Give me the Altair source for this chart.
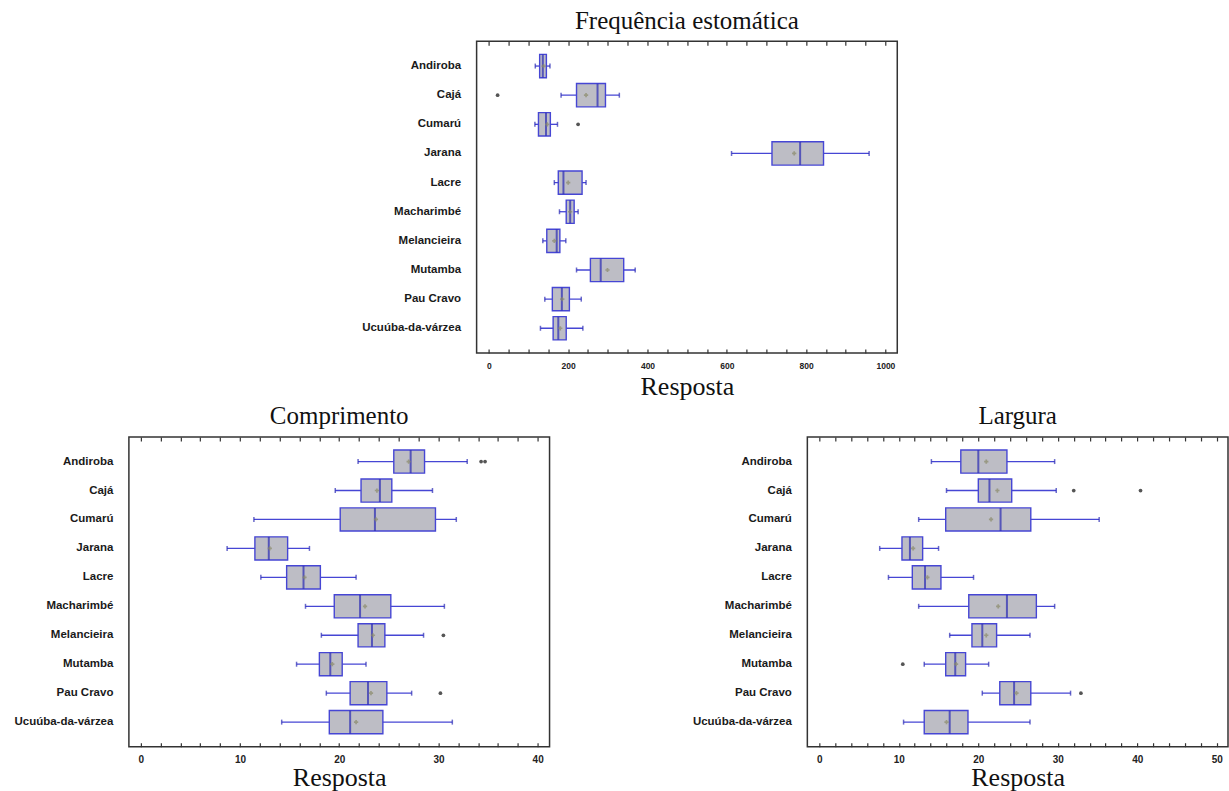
import altair as alt
import pandas as pd

species = ["Andiroba", "Cajá", "Cumarú", "Jarana", "Lacre", "Macharimbé",
           "Melancieira", "Mutamba", "Pau Cravo", "Ucuúba-da-várzea"]

# Frequência estomática
freq_lo = [117, 182, 116, 612, 165, 178, 136, 221, 141, 130]
freq_q1 = [128, 221, 125, 714, 175, 195, 146, 256, 160, 162]
freq_med = [136, 274, 144, 785, 188, 205, 171, 282, 184, 175]
freq_q3 = [145, 294, 155, 844, 235, 215, 179, 340, 203, 195]
freq_hi = [154, 329, 173, 959, 245, 225, 194, 369, 233, 237]
freq_mean = [138, 245, 147, 770, 200, 205, 165, 299, 185, 180]
freq_out_sp = ["Cajá", "Cumarú"]
freq_out_val = [22, 225]

# Comprimento
comp_lo = [21.9, 19.6, 11.4, 8.7, 12.1, 16.6, 18.2, 15.7, 18.7, 14.2]
comp_q1 = [25.5, 22.2, 20.1, 11.5, 14.7, 19.5, 21.9, 18.0, 21.1, 19.0]
comp_med = [27.2, 24.1, 23.6, 12.9, 16.4, 22.1, 23.3, 19.1, 22.9, 21.1]
comp_q3 = [28.6, 25.3, 29.7, 14.8, 18.1, 25.2, 24.6, 20.3, 24.8, 24.4]
comp_hi = [32.9, 29.4, 31.8, 17.0, 21.7, 30.6, 28.5, 22.7, 27.3, 31.4]
comp_mean = [27.0, 23.8, 23.7, 13.0, 16.5, 22.6, 23.4, 19.3, 23.2, 21.7]
comp_out_sp = ["Andiroba", "Andiroba", "Melancieira", "Pau Cravo"]
comp_out_val = [34.3, 34.7, 30.5, 30.2]

# Largura
larg_lo = [14.1, 16.0, 12.5, 7.6, 8.7, 12.5, 16.4, 13.2, 20.5, 10.6]
larg_q1 = [17.8, 20.0, 15.9, 10.4, 11.7, 18.8, 19.2, 15.9, 22.7, 13.2]
larg_med = [20.0, 21.4, 22.8, 11.4, 13.3, 23.6, 20.5, 17.1, 24.5, 16.4]
larg_q3 = [23.6, 24.2, 26.6, 13.0, 15.3, 27.3, 22.3, 18.4, 26.6, 18.7]
larg_hi = [29.6, 29.8, 35.2, 15.0, 19.4, 29.6, 26.5, 21.3, 31.6, 26.5]
larg_mean = [21.0, 22.4, 21.6, 11.8, 13.6, 22.5, 21.0, 17.2, 24.8, 16.0]
larg_out_sp = ["Cajá", "Cajá", "Mutamba", "Pau Cravo"]
larg_out_val = [32.0, 40.4, 10.5, 32.9]

BLUE = "#4646d4"
DARKBLUE = "#2a2ab4"
FILL = "#bdbdc5"
FRAME = "#333333"


def panel(title, lo, q1, med, q3, hi, mean, out_sp, out_val, domain,
          major_step, minor_step, width, height, tick_label_size, title_pad):
    df = pd.DataFrame({"species": species, "lo": lo, "q1": q1, "med": med,
                       "q3": q3, "hi": hi, "mean": mean})
    odf = pd.DataFrame({"species": out_sp, "value": out_val})
    top_tick = int(domain[1] // minor_step) * minor_step
    minor = list(range(0, top_tick + 1, minor_step))

    yenc = alt.Y("species:N", sort=species,
                 scale=alt.Scale(domain=species, paddingInner=0.2, paddingOuter=0.45),
                 axis=alt.Axis(title=None, ticks=False, domain=False, grid=False,
                               labelFont="Liberation Sans", labelFontWeight="bold",
                               labelFontSize=11.5, labelColor="#1a1a1a", labelPadding=16))

    def xenc(field, axis):
        return alt.X(field, type="quantitative",
                     scale=alt.Scale(domain=domain, nice=False, zero=False),
                     axis=axis)

    main_axis = alt.Axis(orient="bottom", values=minor, format="d",
                         labelExpr=f"datum.value % {major_step} === 0 ? datum.label : ''",
                         labelOverlap=False, labelFlush=False,
                         ticks=True, tickSize=4, offset=-4, tickColor=FRAME, tickWidth=1.2,
                         domain=False, grid=False, labelFont="Liberation Sans",
                         labelFontWeight="bold", labelFontSize=tick_label_size,
                         labelColor="#222222", labelPadding=8, title="Resposta",
                         titleFont="Liberation Serif", titleFontSize=26,
                         titleFontWeight="normal", titleColor="#111111",
                         titlePadding=title_pad)

    top_axis = alt.Axis(orient="top", values=minor, labels=False, domain=False,
                        grid=False, ticks=True, tickSize=4, offset=-4,
                        tickColor=FRAME, tickWidth=1.2, title=None)

    base = alt.Chart(df)
    whisk = base.mark_rule(color=BLUE, strokeWidth=1.3).encode(
        x=xenc("lo", main_axis), x2="hi", y=yenc)
    box = base.mark_bar(fill=FILL, stroke=BLUE, strokeWidth=1.4).encode(
        x=xenc("q1", top_axis), x2="q3", y=yenc)
    medl = base.mark_tick(color=DARKBLUE, thickness=2, size=23).encode(
        x=xenc("med", None), y=yenc)
    caps = base.transform_fold(["lo", "hi"], as_=["k", "v"]).mark_tick(
        color=DARKBLUE, thickness=1.5, size=5).encode(
        x=xenc("v", None), y=yenc)
    meanp = base.mark_point(shape="cross", size=18, filled=True, color="#8a8a6a").encode(
        x=xenc("mean", None), y=yenc)
    outp = alt.Chart(odf).mark_point(shape="circle", size=14, filled=True,
                                     color="#555555", opacity=1).encode(
        x=xenc("value", None), y=yenc)

    return alt.layer(whisk, box, medl, caps, meanp, outp).resolve_axis(
        x="independent").properties(
        width=width, height=height,
        title=alt.TitleParams(text=title, font="Liberation Serif", fontSize=25,
                              fontWeight="normal", color="#111111", offset=7,
                              anchor="middle"))


top = panel("Frequência estomática", freq_lo, freq_q1, freq_med, freq_q3, freq_hi,
            freq_mean, freq_out_sp, freq_out_val, [-31, 1030],
            200, 50, 421, 312, 8.5, 4)
bl = panel("Comprimento", comp_lo, comp_q1, comp_med, comp_q3, comp_hi,
           comp_mean, comp_out_sp, comp_out_val, [-1.2, 41.2],
           10, 2, 421, 310, 10, 0)
br = panel("Largura", larg_lo, larg_q1, larg_med, larg_q3, larg_hi,
           larg_mean, larg_out_sp, larg_out_val, [-1.5, 51.4],
           10, 2, 421, 310, 10, 0)

spacer = alt.Chart(pd.DataFrame({"a": [0]})).mark_point(opacity=0).encode(
    x=alt.X("a:Q", axis=None), y=alt.Y("a:Q", axis=None)).properties(
    width=211, height=10, view=alt.ViewBackground(stroke="transparent"))

chart = alt.vconcat(
    alt.hconcat(spacer, top, spacing=20),
    alt.hconcat(bl, br, spacing=141),
    spacing=2,
).configure_view(stroke=FRAME, strokeWidth=1.5).properties(
    padding={"left": 13, "top": 7, "right": 0, "bottom": 0})

chart.save("out.html", embed_options={"renderer": "svg", "actions": False})
